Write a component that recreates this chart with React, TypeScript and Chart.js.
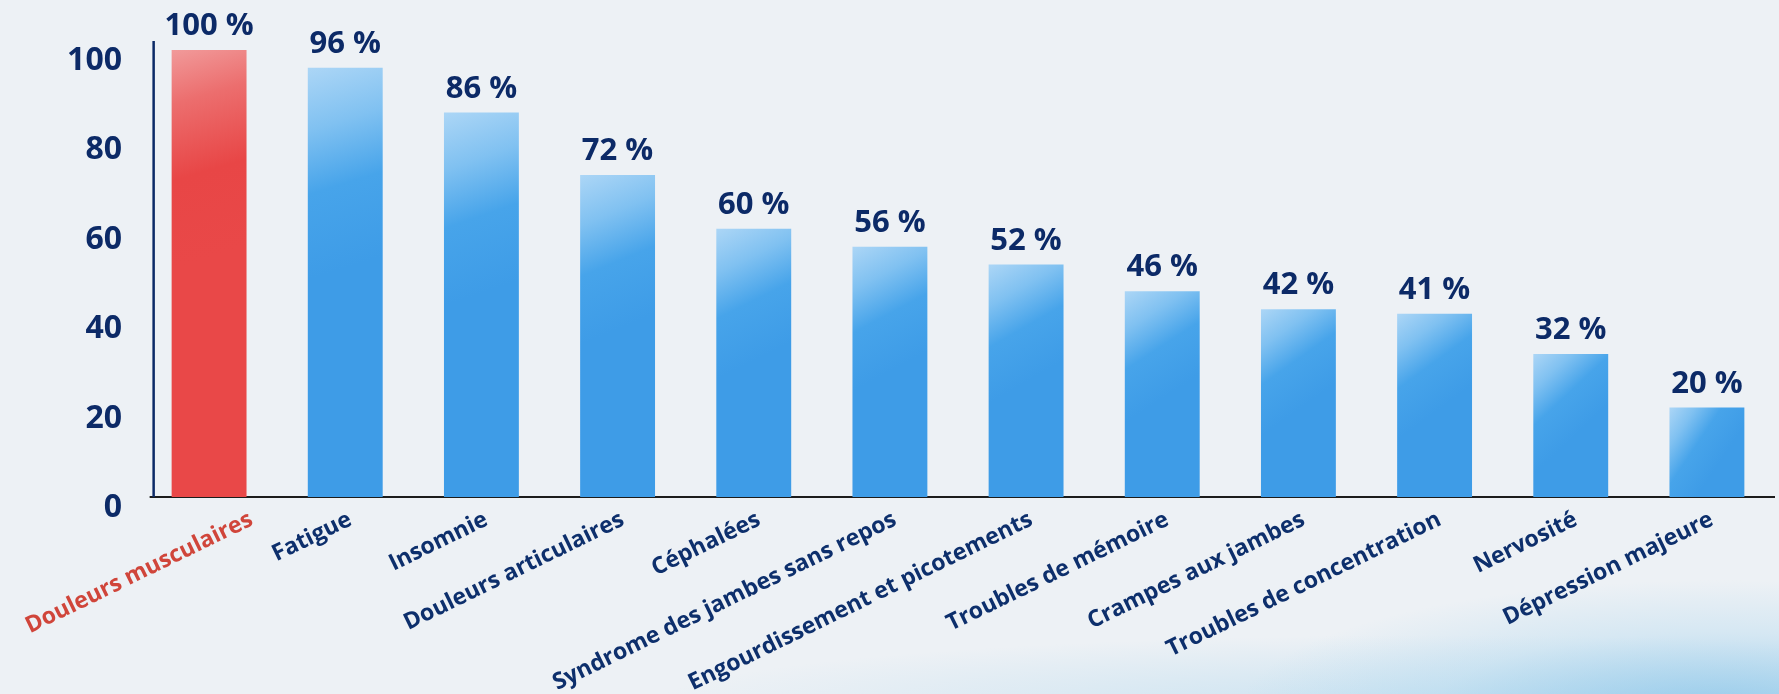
import React, { useEffect, useRef } from "react";
import { Chart, registerables } from "chart.js";

Chart.register(...registerables);

const categories = [
  "Douleurs musculaires",
  "Fatigue",
  "Insomnie",
  "Douleurs articulaires",
  "Céphalées",
  "Syndrome des jambes sans repos",
  "Engourdissement et picotements",
  "Troubles de mémoire",
  "Crampes aux jambes",
  "Troubles de concentration",
  "Nervosité",
  "Dépression majeure",
];
const values = [100, 96, 86, 72, 60, 56, 52, 46, 42, 41, 32, 20];
const yTicks = [0, 20, 40, 60, 80, 100];
const yMin = 0;
const yMax = 102;
const highlightIndex = 0;

const NAVY = "#0c2a67";
const LABEL_NAVY = "#0d2f6c";
const RED_TEXT = "#d0453a";
const FONT = "'Open Sans', 'DejaVu Sans', sans-serif";
const ROT = (26 * Math.PI) / 180;

function barFill(ctx: any) {
  const chart = ctx.chart;
  const xs = chart.scales && chart.scales.x;
  const ys = chart.scales && chart.scales.y;
  const red = ctx.dataIndex === highlightIndex;
  if (!xs || !ys || ctx.type !== "data" || !xs.width) return red ? "#e84a4a" : "#3d9de8";
  const top = ys.getPixelForValue(ctx.raw);
  const bot = ys.getPixelForValue(0);
  const cx = xs.getPixelForValue(ctx.dataIndex);
  const half = ((xs.width / values.length) * 0.55) / 2;
  const g = chart.ctx.createLinearGradient(cx - half, top, cx + half * 0.6, top + (bot - top) * 0.45);
  if (red) {
    g.addColorStop(0, "#f19a9a");
    g.addColorStop(0.25, "#ec6e6e");
    g.addColorStop(0.6, "#e84646");
    g.addColorStop(1, "#e94848");
  } else {
    g.addColorStop(0, "#acd6f6");
    g.addColorStop(0.3, "#80c1f1");
    g.addColorStop(0.6, "#47a4ea");
    g.addColorStop(1, "#3e9ce7");
  }
  return g;
}

const valueLabels = {
  id: "valueLabels",
  afterDatasetsDraw(chart: any) {
    const { ctx } = chart;
    const meta = chart.getDatasetMeta(0);
    ctx.save();
    ctx.font = `bold 31px ${FONT}`;
    ctx.fillStyle = NAVY;
    ctx.textAlign = "center";
    ctx.textBaseline = "alphabetic";
    meta.data.forEach((el: any, i: number) => {
      ctx.fillText(`${values[i]} %`, el.x, el.y - 15);
    });
    ctx.restore();
  },
};

// axis lines drawn just left of the first bar, and rotated category labels kept inside the canvas
const axisDecor = {
  id: "axisDecor",
  beforeDatasetsDraw(chart: any) {
    const { ctx, chartArea } = chart;
    const first = chart.getDatasetMeta(0).data[0];
    if (!first) return;
    const lx = first.x - first.width / 2 - 18;
    ctx.save();
    ctx.strokeStyle = "#1c1c1c";
    ctx.lineWidth = 2;
    ctx.beginPath();
    ctx.moveTo(lx - 4, chartArea.bottom);
    ctx.lineTo(chartArea.right, chartArea.bottom);
    ctx.stroke();
    ctx.restore();
  },
  afterDatasetsDraw(chart: any) {
    const { ctx, chartArea } = chart;
    const xs = chart.scales.x;
    const first = chart.getDatasetMeta(0).data[0];
    if (!first) return;
    ctx.save();
    const lx = first.x - first.width / 2 - 18;
    ctx.strokeStyle = NAVY;
    ctx.lineWidth = 2.5;
    ctx.beginPath();
    ctx.moveTo(lx, chartArea.top);
    ctx.lineTo(lx, chartArea.bottom);
    ctx.stroke();
    ctx.font = `bold 23px ${FONT}`;
    ctx.textAlign = "right";
    ctx.textBaseline = "top";
    const y0 = chartArea.bottom + 11;
    const h = 23;
    categories.forEach((lab, i) => {
      let px = xs.getPixelForTick(i);
      const w = ctx.measureText(lab).width;
      const leftExtent = px - w * Math.cos(ROT) - h * Math.sin(ROT);
      if (leftExtent < 12) px += 12 - leftExtent;
      ctx.save();
      ctx.translate(px, y0);
      ctx.rotate(-ROT);
      ctx.fillStyle = i === highlightIndex ? RED_TEXT : LABEL_NAVY;
      ctx.fillText(lab, 0, 0);
      ctx.restore();
    });
    ctx.restore();
  },
};

export default function App() {
  const ref = useRef<HTMLCanvasElement | null>(null);
  useEffect(() => {
    if (!ref.current) return;
    const chart = new Chart(ref.current, {
      type: "bar",
      data: {
        labels: categories,
        datasets: [
          {
            data: values,
            backgroundColor: barFill,
            borderWidth: 0,
            barPercentage: 0.55,
            categoryPercentage: 1,
          },
        ],
      },
      options: {
        animation: false,
        responsive: false,
        maintainAspectRatio: false,
        layout: { padding: { top: 41, right: 4, left: 0, bottom: 0 } },
        plugins: { legend: { display: false }, tooltip: { enabled: false } },
        scales: {
          x: {
            grid: { display: false, drawTicks: false },
            border: { display: false },
            ticks: { display: false, autoSkip: false },
            afterFit: (s: any) => {
              s.height = 197;
              s.paddingLeft = 0;
              s.paddingRight = 0;
            },
          },
          y: {
            min: yMin,
            max: yMax,
            grid: { display: false, drawTicks: false },
            border: { display: false },
            afterBuildTicks: (s: any) => {
              s.ticks = yTicks.map((v) => ({ value: v }));
            },
            ticks: {
              padding: 19,
              labelOffset: 11,
              font: { family: FONT, size: 32, weight: "bold" },
              color: NAVY,
            },
            afterFit: (s: any) => {
              s.width = 141;
            },
          },
        },
      },
      plugins: [valueLabels, axisDecor],
    });
    return () => chart.destroy();
  }, []);

  return (
    <div
      style={{
        position: "fixed",
        left: 0,
        top: 0,
        width: 1779,
        height: 694,
        background:
          "radial-gradient(ellipse 480px 130px at 1720px 710px, rgba(110,185,230,0.6), rgba(160,210,238,0.3) 60%, rgba(237,241,245,0) 100%), radial-gradient(ellipse 800px 70px at 1450px 705px, rgba(150,205,235,0.4), rgba(237,241,245,0) 100%), #edf1f5",
      }}
    >
      <canvas ref={ref} width={1779} height={694} style={{ display: "block" }} />
    </div>
  );
}
